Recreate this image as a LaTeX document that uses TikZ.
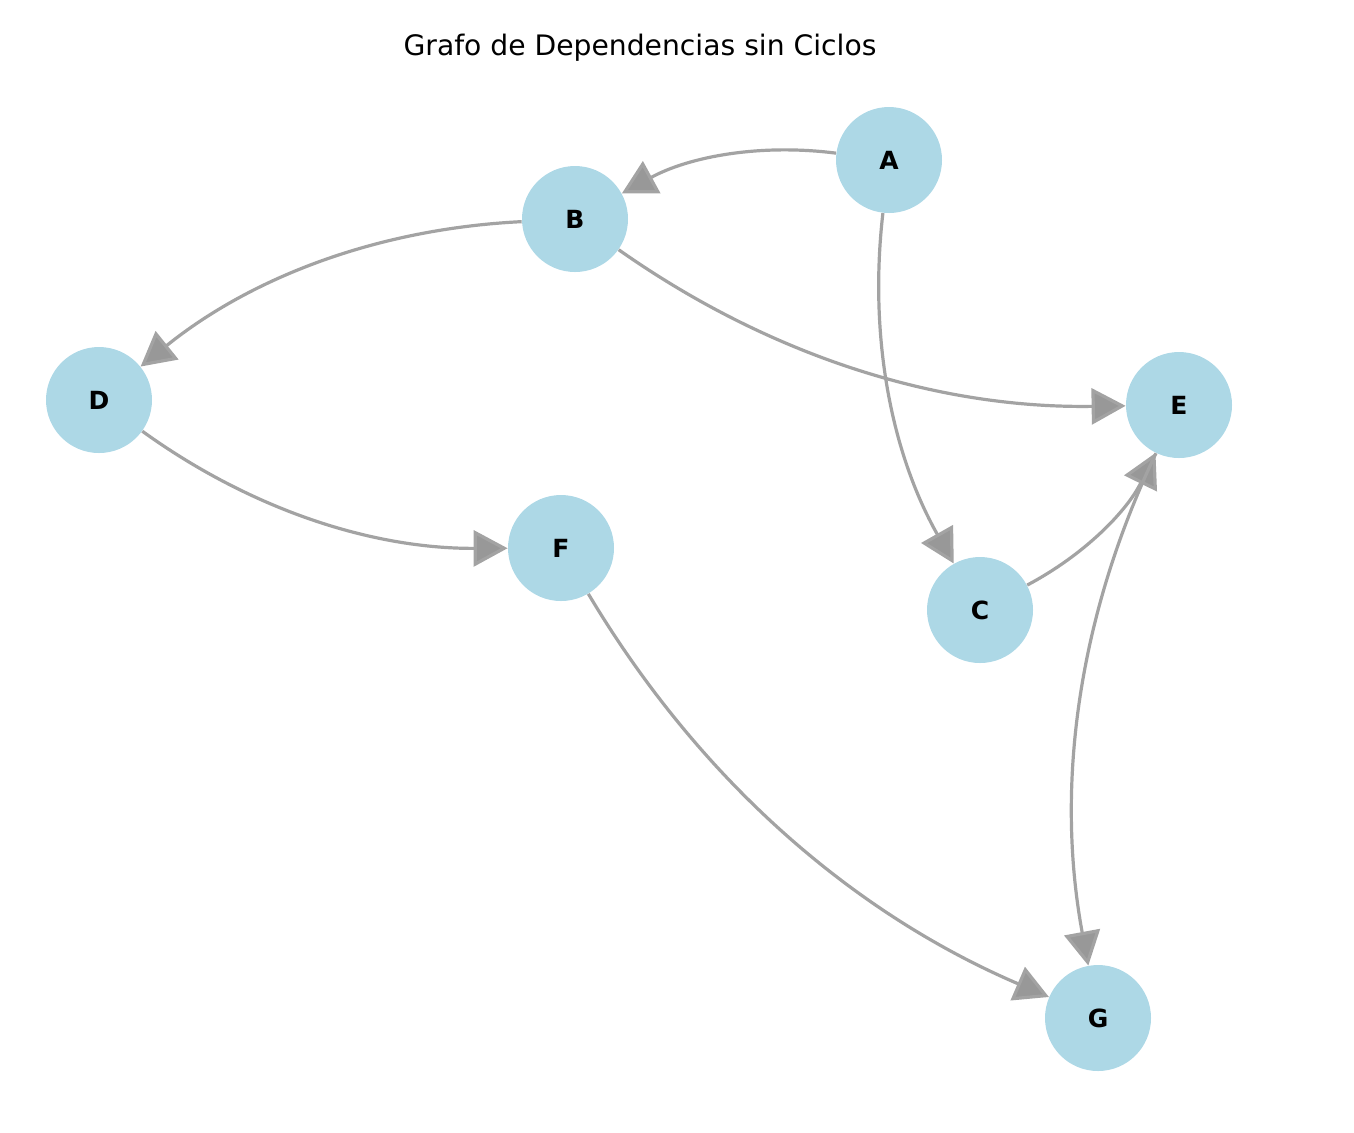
\documentclass[tikz,border=0pt]{standalone}
\usepackage{fontspec}
\setmainfont{DejaVu Sans}
\usepackage{tikz}
\usetikzlibrary{arrows.meta}
\definecolor{nodeblue}{RGB}{173,216,230}
\definecolor{edgegray}{RGB}{163,163,163}
\definecolor{tipgray}{RGB}{152,152,152}
\tikzset{
  vertex/.style={circle, fill=nodeblue, minimum size=53pt, inner sep=0pt,
    font=\fontsize{12.5}{13}\selectfont\bfseries},
  deparrow/.style={-{Triangle[length=17pt, width=18pt, fill=tipgray]},
    line width=1.6pt, draw=edgegray, bend right=18, looseness=0.9}
}

\begin{document}
\begin{tikzpicture}[x=0.5pt, y=0.5pt]
  \useasboundingbox (0,0) rectangle (1354,-1132);

  \node[font=\fontsize{14.1}{16}\selectfont] (title) at (640,-48) {Grafo de Dependencias sin Ciclos};

  % nodes
  \node[vertex] (A) at (889,-160) {A};
  \node[vertex] (B) at (575,-219) {B};
  \node[vertex] (D) at (99,-400) {D};
  \node[vertex] (E) at (1179,-405) {E};
  \node[vertex] (F) at (561,-548) {F};
  \node[vertex] (C) at (980,-610) {C};
  \node[vertex] (G) at (1098,-1018) {G};

  % dependencies
  \draw[deparrow] (A) to (B);
  \draw[deparrow] (A) to (C);
  \draw[deparrow] (B) to (D);
  \draw[deparrow] (B) to (E);
  \draw[deparrow] (D) to (F);
  \draw[deparrow] (C) to (E);
  \draw[deparrow] (E) to (G);
  \draw[deparrow] (F) to (G);
\end{tikzpicture}
\end{document}
